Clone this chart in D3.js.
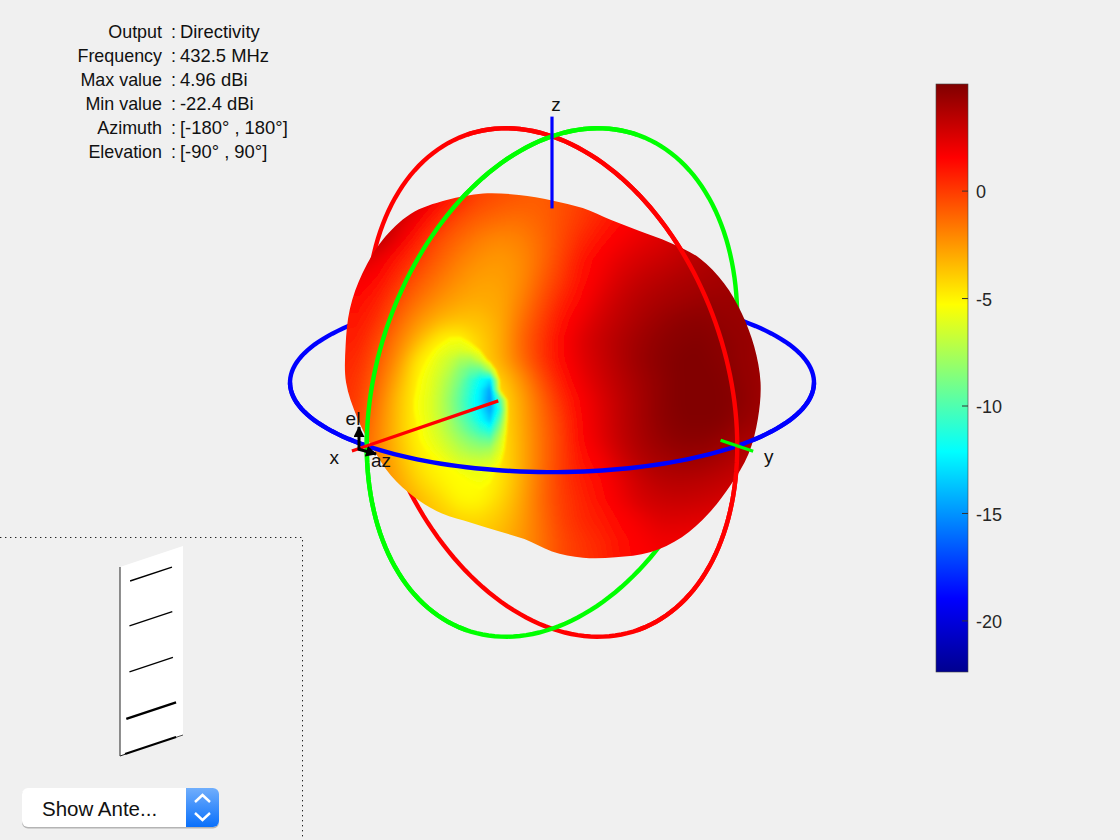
<!doctype html>
<html>
  <head>
    <meta charset="utf-8">
    <title>Directivity pattern</title>
    <script src="https://d3js.org/d3.v7.min.js"></script>
    <style>
      html, body { margin: 0; background: #f0f0f0; }
      svg { display: block; }
      text { font-family: "Liberation Sans", Arial, sans-serif; }
    </style>
  </head>
  <body>
    <script>
      const infoLabels = ['Output', 'Frequency', 'Max value', 'Min value', 'Azimuth', 'Elevation'];
      const infoValues = ['Directivity', '432.5 MHz', '4.96 dBi', '-22.4 dBi', '[-180° , 180°]', '[-90° , 90°]'];

      const colorMin = -22.4;
      const colorMax = 4.96;
      const colorTicks = [0, -5, -10, -15, -20];
      const jetStops = [0, 0.125, 0.375, 0.625, 0.875, 1];
      const jetColors = ['#00008f', '#0000ff', '#00ffff', '#ffff00', '#ff0000', '#800000'];

      // pattern silhouette, radius per 10 degrees clockwise from the top (sphere radius = 1)
      const outlineRadius = [
        .695, .676, .660, .668, .698, .737, .758, .771, .784, .796, .798, .798,
        .786, .779, .771, .748, .710, .679, .645, .607, .603, .618, .653, .683,
        .710, .729, .756, .786, .800, .821, .835, .845, .840, .804, .768, .727
      ];

      // directivity in dB, 24 columns by 21 rows
      const surfaceCols = 24;
      const surfaceDb = [
        3.4,3.4,3.4,3.4,3.4,2.8,1.7,.7,-.1,-.4,-.6,-.8,-.5,0,.5,1,1.5,2,2.5,3,3.5,4,4.2,4.2,
        3.4,3.4,3.4,3.4,3.4,2.6,1.4,.5,-.3,-.6,-.8,-.9,-.6,-.1,.4,1,1.5,2,2.5,3,3.5,4,4.2,4.2,
        3.4,3.4,3.4,3.4,2.8,1.6,.5,-.5,-1,-1.3,-1.4,-1.1,-.5,.1,.7,1.3,1.8,2.2,2.6,3.1,3.6,4,4.2,4.2,
        3.4,3.4,3.4,3.4,2,.7,-.5,-1.2,-1.8,-2.1,-1.9,-1.3,-.4,.5,1.2,1.8,2.2,2.5,2.9,3.3,3.7,4,4.2,4.2,
        2.6,2.6,2.6,2,.9,-.1,-1,-1.8,-2.3,-2.5,-2.2,-1.3,-.2,1,1.7,2.3,2.7,3,3.3,3.6,3.9,4.1,4.3,4.3,
        1.8,1.8,1.8,1.3,.2,-.8,-1.6,-2.3,-2.7,-2.7,-2.2,-1,.1,1.2,2,2.7,3.2,3.5,3.8,3.9,4,4.2,4.3,4.3,
        1.3,1.3,1.3,.7,-.5,-1.5,-2.3,-2.8,-3,-2.9,-1.9,-.6,.6,1.5,2.4,3.1,3.6,3.9,4.1,4.3,4.3,4.3,4.3,4.3,
        1,1,1,.2,-1.2,-2.4,-3.2,-3.6,-3.6,-3,-1.5,-.2,1.1,2,2.8,3.4,3.9,4.3,4.6,4.7,4.5,4.4,4.3,4.3,
        .8,.8,.7,-.4,-1.9,-3.4,-5,-5.2,-4,-3,-1.2,.1,1.4,2.4,3.1,3.7,4.2,4.6,4.8,4.9,4.7,4.5,4.3,4.3,
        .6,.6,.4,-.9,-2.5,-4.9,-5.3,-5.3,-4.2,-3,-1.4,.1,1.3,2.3,3,3.7,4.3,4.7,4.96,4.96,4.8,4.5,4.3,4.3,
        .5,.5,.1,-1.3,-3.2,-5.2,-5.3,-5.3,-5,-3.9,-2.4,-.6,.9,2,2.8,3.5,4.1,4.6,4.96,4.96,4.9,4.6,4.3,4.3,
        .4,.4,-.1,-1.7,-3.7,-5.2,-5.3,-5.3,-5.3,-4.5,-2.9,-1.2,.4,1.6,2.5,3.3,4,4.6,4.96,4.96,4.96,4.7,4.3,4.3,
        .2,.2,-.4,-2,-3.7,-5.2,-5.3,-5.3,-5.3,-4.5,-3,-1.4,0,1.5,2.4,3.3,4,4.6,4.9,4.96,4.9,4.5,4.2,4.2,
        0,0,-.8,-2.1,-3.7,-5.1,-5.3,-5.3,-5.3,-4.6,-3.1,-1.5,-.1,1.4,2.3,3.2,3.9,4.4,4.7,4.7,4.5,4,3.8,3.8,
        -.4,-.4,-1,-2,-3.4,-4.7,-5.2,-5.3,-5.3,-4.6,-3.1,-1.5,-.1,1.1,1.8,2.8,3.6,4,4.2,4.2,3.9,3.5,3.3,3.3,
        -.8,-.8,-1,-1.9,-3,-4.2,-4.9,-5.3,-5.3,-4.6,-3.1,-1.4,0,.8,1.4,2.2,3,3.5,3.6,3.5,3.3,3,2.8,2.8,
        -1,-1,-1.2,-1.9,-2.6,-3.4,-4.2,-5.1,-5.1,-4.2,-2.9,-1.3,-.1,.6,1.2,2,2.7,3,3.1,3,2.8,2.5,2.4,2.4,
        -1.2,-1.2,-1.4,-2,-2.6,-3.1,-3.7,-4.1,-4.2,-3.7,-2.7,-1.4,-.2,.5,.9,1.5,2,2.5,2.5,2.4,2.2,2,2,2,
        -1.4,-1.4,-1.6,-2,-2.6,-3,-3.4,-3.7,-3.7,-3.3,-2.5,-1.5,-.4,.2,.6,1.2,1.7,2,2,1.9,1.8,1.7,1.7,1.7,
        -1.5,-1.5,-1.7,-2.1,-2.6,-3,-3.3,-3.5,-3.5,-3.2,-2.4,-1.4,-.4,.1,.5,1.1,1.6,1.8,1.8,1.7,1.6,1.5,1.5,1.5,
        -1.5,-1.5,-1.7,-2.1,-2.6,-3,-3.3,-3.5,-3.5,-3.2,-2.4,-1.4,-.4,.1,.5,1.1,1.6,1.8,1.8,1.7,1.6,1.5,1.5,1.5
      ];

      // finer samples around the null, 12 columns by 18 rows
      const nullCols = 12;
      const nullDb = [
        -3.4,-3.6,-3.9,-4.3,-4.7,-4.6,-4.2,-3.8,-3.4,-3,-2.5,-2.2,
        -3.8,-4.1,-4.5,-5,-5.5,-5.6,-5.1,-4.5,-3.9,-3.3,-2.8,-2.4,
        -4.2,-4.6,-5.1,-5.7,-6.1,-6.3,-6,-5.3,-4.5,-3.7,-3,-2.5,
        -4.5,-4.9,-5.5,-6.2,-6.8,-7.6,-7.8,-6.8,-4.8,-3.8,-3.3,-2.6,
        -4.7,-5.2,-5.8,-6.5,-7.3,-8.5,-9.4,-9.6,-7.5,-3.9,-3.3,-2.7,
        -4.9,-5.4,-6,-6.8,-7.8,-9,-10.6,-12,-13,-5,-3.2,-2.6,
        -5,-5.5,-6.1,-7,-8.1,-9.5,-11,-12.6,-14.6,-5.4,-3.3,-2.6,
        -5.1,-5.6,-6.2,-7.1,-8.3,-9.7,-11.3,-12.8,-15,-10,-3.6,-2.7,
        -5.1,-5.6,-6.2,-7.1,-8.2,-9.6,-11.1,-12.6,-14.5,-11,-3.7,-2.8,
        -5,-5.5,-6.1,-6.9,-7.9,-9.2,-10.5,-12,-13.5,-9.5,-3.9,-2.9,
        -4.9,-5.4,-6,-6.7,-7.6,-8.6,-9.7,-10.7,-11.5,-8,-4.1,-3,
        -4.7,-5.3,-5.8,-6.4,-7.1,-7.9,-8.6,-9.2,-9.4,-6.8,-4.2,-3.1,
        -4.5,-5,-5.5,-6,-6.6,-7.2,-7.7,-7.9,-7.7,-6.2,-4.2,-3.2,
        -4.2,-4.7,-5.1,-5.5,-6,-6.5,-6.7,-6.8,-6.6,-5.6,-4.1,-3.1,
        -3.9,-4.3,-4.7,-5,-5.3,-5.7,-5.9,-5.9,-5.7,-5,-3.9,-3,
        -3.6,-3.9,-4.2,-4.5,-4.8,-5.2,-5.5,-5.6,-5.4,-4.7,-3.7,-2.9,
        -3.2,-3.5,-3.8,-4.1,-4.4,-4.8,-5.1,-5.3,-5.1,-4.4,-3.5,-2.8,
        -2.9,-3.1,-3.4,-3.7,-4,-4.3,-4.6,-4.8,-4.6,-4,-3.2,-2.6
      ];

      // reference circles: tilt of the equator, then turn in longitude
      const circleNames = ['xy', 'yz', 'xz'];
      const circleColors = ['#0000ff', '#ff0000', '#00ff00'];
      const circleTilt = [0, 90, 90];
      const circleTurn = [0, 90, 0];

      // axes: direction on the sphere, inner and outer extent in sphere radii
      const axisNames = ['x', 'y', 'z'];
      const axisDirs = [[0, 0], [90, 0], [0, 90]];
      const axisInner = [0.29, 0.91, 0.707];
      const axisOuter = [1.08, 1.086, 1.08];
      const axisColors = ['#ff0000', '#00ff00', '#0000ff'];
      const axisLabelReach = [1.175, 1.17, 1.13];
      const axisLabelShift = [0, 0, 4];

      // antenna preview, plate height fraction and span of each element
      const elementHeight = [0.908, 0.672, 0.429, 0.185, 0.002];
      const elementStart = [0.16, 0.15, 0.15, 0.10, 0.08];
      const elementEnd = [0.825, 0.83, 0.84, 0.89, 0.89];
      const elementWidth = [1.4, 1.3, 1.3, 2.5, 2.2];

      const svgWidth = 1120;
      const svgHeight = 840;
      const cx = 552;
      const cy = 382.5;
      const sphereRadius = 262;

      const svg = d3.select('body').append('svg')
          .attr('width', svgWidth)
          .attr('height', svgHeight);
      const defs = svg.append('defs');

      const colorDomain = jetStops.map(t => colorMin + t * (colorMax - colorMin));
      const jet = d3.scaleLinear().domain(colorDomain).range(jetColors);

      // view from azimuth 45, elevation 20
      const front = d3.geoOrthographic()
          .rotate([-45, -20])
          .scale(sphereRadius)
          .translate([cx, cy])
          .precision(0.2);
      const whole = d3.geoOrthographic()
          .rotate([-45, -20])
          .scale(sphereRadius)
          .translate([cx, cy])
          .precision(0.2)
          .clipAngle(null);

      const circles = circleNames.map((name, i) => {
        const tilt = d3.geoRotation([0, 0, circleTilt[i]]);
        const turn = d3.geoRotation([circleTurn[i], 0]);
        const coords = d3.range(0, 361, 2).map(lon => turn(tilt([lon, 0])));
        return { name, color: circleColors[i], geo: { type: 'LineString', coordinates: coords } };
      });

      // back halves behind the pattern
      svg.append('g')
          .attr('fill', 'none')
          .attr('stroke-width', 4.4)
        .selectAll('path')
        .data(circles)
        .join('path')
          .attr('stroke', d => d.color)
          .attr('d', d => d3.geoPath(whole)(d.geo));

      // pattern surface
      defs.append('clipPath').attr('id', 'outline')
        .append('path')
          .attr('transform', `translate(${cx},${cy})`)
          .attr('d', d3.lineRadial()
              .curve(d3.curveCatmullRomClosed)
              .angle((d, i) => i * 10 * Math.PI / 180)
              .radius(d => d * sphereRadius)(outlineRadius));
      defs.append('filter').attr('id', 'soft')
          .attr('filterUnits', 'userSpaceOnUse')
          .attr('x', 300).attr('y', 160).attr('width', 500).attr('height', 440)
        .append('feGaussianBlur').attr('stdDeviation', 7);
      defs.append('filter').attr('id', 'softer')
          .attr('filterUnits', 'userSpaceOnUse')
          .attr('x', 300).attr('y', 160).attr('width', 500).attr('height', 440)
        .append('feGaussianBlur').attr('stdDeviation', 1.2);

      const surface = svg.append('g').attr('clip-path', 'url(#outline)');

      const gridPath = (x0, y0, step) => d3.geoPath(d3.geoIdentity()
          .scale(step)
          .translate([x0 - step / 2, y0 - step / 2]));

      const surfaceRows = surfaceDb.length / surfaceCols;
      const bands = d3.contours()
          .size([surfaceCols, surfaceRows])
          .thresholds(d3.range(-6, colorMax, 0.1))(surfaceDb);
      const surfacePath = gridPath(320, 180, 20);
      surface.append('g')
          .attr('filter', 'url(#soft)')
        .selectAll('path')
        .data(bands)
        .join('path')
          .attr('fill', d => jet(d.value))
          .attr('d', surfacePath);

      // contours go upward, so the null is traced on the negated samples
      const nullRows = nullDb.length / nullCols;
      const nullBands = d3.contours()
          .size([nullCols, nullRows])
          .thresholds(d3.range(5.3, 16, 0.1))(nullDb.map(d => -d));
      const nullPath = gridPath(410, 330, 10);
      surface.append('g')
          .attr('filter', 'url(#softer)')
        .selectAll('path')
        .data(nullBands)
        .join('path')
          .attr('fill', d => jet(-d.value))
          .attr('d', nullPath);

      // front halves over the pattern
      svg.append('g')
          .attr('fill', 'none')
          .attr('stroke-width', 4.4)
        .selectAll('path')
        .data(circles)
        .join('path')
          .attr('stroke', d => d.color)
          .attr('d', d => d3.geoPath(front)(d.geo));

      // axes and their labels
      const reach = (dir, k) => {
        const p = whole(dir);
        return [cx + (p[0] - cx) * k, cy + (p[1] - cy) * k];
      };
      const axes = svg.append('g');
      axisNames.forEach((name, i) => {
        const a = reach(axisDirs[i], axisInner[i]);
        const b = reach(axisDirs[i], axisOuter[i]);
        const l = reach(axisDirs[i], axisLabelReach[i]);
        axes.append('line')
            .attr('x1', a[0]).attr('y1', a[1])
            .attr('x2', b[0]).attr('y2', b[1])
            .attr('stroke', axisColors[i])
            .attr('stroke-width', 3.2);
        axes.append('text')
            .attr('x', l[0] + axisLabelShift[i]).attr('y', l[1])
            .attr('dy', '0.35em')
            .attr('text-anchor', 'middle')
            .attr('font-size', 19)
            .attr('fill', '#111')
            .text(name);
      });

      // small az / el triad
      defs.append('marker').attr('id', 'arrow')
          .attr('markerUnits', 'userSpaceOnUse')
          .attr('markerWidth', 11).attr('markerHeight', 11)
          .attr('refX', 10).attr('refY', 5.5).attr('orient', 'auto')
        .append('path').attr('d', 'M0,0L11,5.5L0,11Z').attr('fill', '#000');
      const triad = svg.append('g').attr('stroke', '#000').attr('stroke-width', 3).attr('fill', 'none');
      triad.append('path').attr('d', 'M359,450V427').attr('marker-end', 'url(#arrow)');
      triad.append('path').attr('d', 'M358,449L376,454').attr('marker-end', 'url(#arrow)');
      svg.append('text').attr('x', 353).attr('y', 425).attr('text-anchor', 'middle')
          .attr('font-size', 19).attr('fill', '#111').text('el');
      svg.append('text').attr('x', 381).attr('y', 467).attr('text-anchor', 'middle')
          .attr('font-size', 19).attr('fill', '#111').text('az');

      // readout, top left
      const info = svg.append('g').attr('fill', '#111');
      infoLabels.forEach((label, i) => {
        const y = 38 + i * 24;
        info.append('text').attr('x', 162).attr('y', y).attr('text-anchor', 'end')
            .attr('font-size', 17.9).text(label);
        info.append('text').attr('x', 171).attr('y', y).attr('font-size', 17.9).text(':');
        info.append('text').attr('x', 180).attr('y', y)
            .attr('font-size', 18.4).text(infoValues[i]);
      });

      // colorbar
      const barY = d3.scaleLinear().domain([colorMin, colorMax]).range([672, 84]);
      const barGradient = defs.append('linearGradient')
          .attr('id', 'jetBar')
          .attr('x1', '0%').attr('y1', '100%')
          .attr('x2', '0%').attr('y2', '0%');
      barGradient.selectAll('stop')
        .data(jetStops)
        .join('stop')
          .attr('offset', d => d)
          .attr('stop-color', (d, i) => jetColors[i]);
      svg.append('rect')
          .attr('x', 936).attr('y', 84)
          .attr('width', 32).attr('height', 588)
          .attr('fill', 'url(#jetBar)')
          .attr('stroke', '#444')
          .attr('stroke-width', 0.6);
      const barAxis = svg.append('g')
          .attr('transform', 'translate(968,0)')
          .call(d3.axisRight(barY)
              .tickValues(colorTicks)
              .tickFormat(String)
              .tickSize(-6)
              .tickPadding(8));
      barAxis.select('.domain').remove();
      barAxis.selectAll('text')
          .attr('font-family', '"Liberation Sans", Arial, sans-serif')
          .attr('font-size', 18)
          .attr('dy', '0.4em')
          .attr('fill', '#262626');
      barAxis.selectAll('line').attr('stroke', '#333');

      // antenna preview panel
      svg.append('path')
          .attr('d', 'M0,537.5H302.5V840')
          .attr('fill', 'none')
          .attr('stroke', '#222')
          .attr('stroke-dasharray', '1.4 3.6');

      const plateX = d3.scaleLinear().domain([0, 1]).range([120, 183]);
      const plateY = d3.scaleLinear().domain([0, 1]).range([756, 567]);
      const plateSkew = 21;
      const onPlate = (u, h) => [plateX(u), plateY(h) - plateSkew * u];
      svg.append('polygon')
          .attr('points', [[0, 0], [1, 0], [1, 1], [0, 1]].map(d => onPlate(d[0], d[1]).join(',')).join(' '))
          .attr('fill', '#fff');
      svg.append('path')
          .attr('d', `M${onPlate(0, 1)}L${onPlate(0, 0)}L${onPlate(0.08, 0)}`)
          .attr('fill', 'none').attr('stroke', '#222').attr('stroke-width', 1);
      svg.append('path')
          .attr('d', `M${onPlate(0.89, 0)}L${onPlate(1, 0)}`)
          .attr('fill', 'none').attr('stroke', '#222').attr('stroke-width', 0.8);
      svg.append('g')
          .attr('stroke', '#000')
        .selectAll('line')
        .data(elementHeight)
        .join('line')
          .attr('x1', (d, i) => onPlate(elementStart[i], d)[0])
          .attr('y1', (d, i) => onPlate(elementStart[i], d)[1])
          .attr('x2', (d, i) => onPlate(elementEnd[i], d)[0])
          .attr('y2', (d, i) => onPlate(elementEnd[i], d)[1])
          .attr('stroke-width', (d, i) => elementWidth[i]);

      // popup menu
      const buttonFill = defs.append('linearGradient')
          .attr('id', 'buttonFill')
          .attr('x1', '0%').attr('y1', '0%')
          .attr('x2', '0%').attr('y2', '100%');
      buttonFill.append('stop').attr('offset', 0).attr('stop-color', '#70aefc');
      buttonFill.append('stop').attr('offset', 1).attr('stop-color', '#0a70fb');
      defs.append('clipPath').attr('id', 'buttonClip')
        .append('rect')
          .attr('x', 22).attr('y', 788)
          .attr('width', 197).attr('height', 39).attr('rx', 6);
      svg.append('rect')
          .attr('x', 22).attr('y', 789)
          .attr('width', 197).attr('height', 39.5).attr('rx', 6)
          .attr('fill', '#b4b4b4');
      svg.append('rect')
          .attr('x', 22).attr('y', 788)
          .attr('width', 197).attr('height', 39).attr('rx', 6)
          .attr('fill', '#fff');
      svg.append('rect')
          .attr('x', 186).attr('y', 788)
          .attr('width', 33).attr('height', 39)
          .attr('clip-path', 'url(#buttonClip)')
          .attr('fill', 'url(#buttonFill)');
      svg.append('path')
          .attr('d', 'M195,802L202.5,795L210,802M195,813L202.5,820L210,813')
          .attr('fill', 'none')
          .attr('stroke', '#fff')
          .attr('stroke-width', 2.4);
      svg.append('text')
          .attr('x', 42).attr('y', 816)
          .attr('font-size', 20.5)
          .attr('fill', '#111')
          .text('Show Ante...');
    </script>
  </body>
</html>
